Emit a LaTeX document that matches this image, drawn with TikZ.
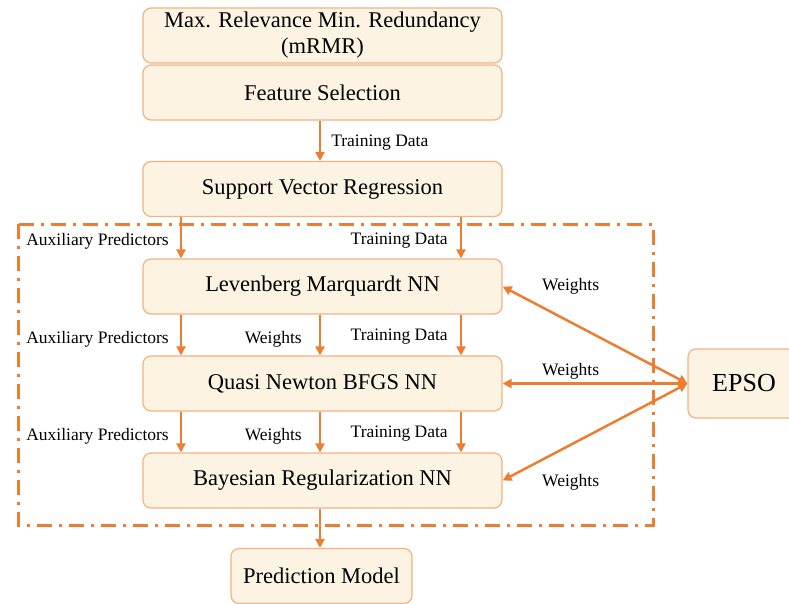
\documentclass[tikz,border=0pt]{standalone}
\usepackage{fontspec}
\setmainfont{Liberation Serif}
\usetikzlibrary{arrows.meta}
\definecolor{orangeline}{HTML}{ED7D31}
\definecolor{boxline}{HTML}{F4B183}
\definecolor{boxfill}{HTML}{FDF3E3}

\begin{document}
\begin{tikzpicture}[x=1pt,y=-1pt]
        \useasboundingbox (0,0) rectangle (789,603);

        \begin{scope}[every node/.style={rectangle,rounded corners=8pt,draw=boxline,fill=boxfill,
            line width=1.2pt,minimum width=359pt,minimum height=55pt,inner sep=0pt,
            align=center,font=\fontsize{22.5}{26}\selectfont}]
            \node (M) at (322.5,35.5) {Max. Relevance Min. Redundancy\\(mRMR)};
            \node (F) at (322.5,92.5) {Feature Selection};
            \node (S) at (322.5,189) {Support Vector Regression};
            \node (L) at (322.5,286.5) {Levenberg Marquardt NN};
            \node (Q) at (322.5,383.5) {Quasi Newton BFGS NN};
            \node (B) at (322.5,480.5) {Bayesian Regularization NN};
            \node[minimum width=181pt] (P) at (321.5,576) {Prediction Model};
            \node[minimum width=112pt,minimum height=69pt,font=\fontsize{26}{30}\selectfont] (E) at (744,383.5) {EPSO};
        \end{scope}

        \draw[orangeline,line width=3pt,dash pattern=on 15pt off 7pt on 3pt off 7pt]
            (18,224) rectangle (653,525);

        \begin{scope}[>={Triangle[length=9pt,width=9pt]},orangeline,line width=2.5pt,
            every node/.style={black,inner sep=0pt,font=\fontsize{17.5}{20}\selectfont}]
            \draw[->] ([xshift=-2.5pt]F.south) -- node[pos=0.55,right=10pt] {Training Data} ([xshift=-2.5pt]S.north);
            \draw[->] ([xshift=-141.5pt]S.south) -- node[pos=0.58,left=11pt] {Auxiliary Predictors} ([xshift=-141.5pt]L.north);
            \draw[->] ([xshift=138.5pt]S.south) -- node[pos=0.58,left=12pt] {Training Data} ([xshift=138.5pt]L.north);
            \foreach \a/\b in {L/Q,Q/B} {
                \draw[->] ([xshift=-141.5pt]\a.south) -- node[pos=0.6,left=11pt] {Auxiliary Predictors} ([xshift=-141.5pt]\b.north);
                \draw[->] ([xshift=-2.5pt]\a.south) -- node[pos=0.6,left=17pt] {Weights} ([xshift=-2.5pt]\b.north);
                \draw[->] ([xshift=138.5pt]\a.south) -- node[pos=0.55,left=12pt] {Training Data} ([xshift=138.5pt]\b.north);
            }
            \draw[->] ([xshift=-2.5pt]B.south) -- ([xshift=-1.5pt]P.north);
            \foreach \n in {L,Q,B}
                \draw[<->] (\n.east) -- (E.west);
            \node (W1) at ([xshift=68pt]L.east) {Weights};
            \node (W2) at ([xshift=68pt,yshift=12pt]Q.east) {Weights};
            \node (W3) at ([xshift=68pt,yshift=-1.5pt]B.east) {Weights};
        \end{scope}
    \end{tikzpicture}
\end{document}
